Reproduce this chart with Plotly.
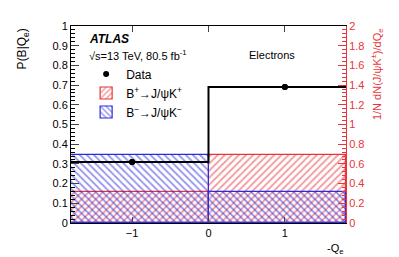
import plotly.graph_objects as go

# Data
bin_centers = [-0.9, 0.9]
bin_width = 1.8
bin_edges = [-1.8, 0.0, 1.8]
data_x = [-1, 1]
data_y = [0.31, 0.69]
data_err = [0.004, 0.004]
bplus = [0.155, 0.345]
bminus = [0.345, 0.155]

RED = "#e8343a"
BLUE = "#2a2ae0"
FONT = "Liberation Sans, Arial, Helvetica, sans-serif"

fig = go.Figure()

fig.add_trace(go.Scatter(
    x=data_x, y=data_y, mode="markers", name="Data",
    marker=dict(color="black", size=6, symbol="circle"),
    error_y=dict(type="data", array=data_err, color="black", thickness=1.5, width=0),
))
fig.add_trace(go.Bar(
    x=bin_centers, y=bplus, width=bin_width, name="B<sup>+</sup>→J/ψK<sup>+</sup>",
    marker=dict(color="rgba(0,0,0,0)", line=dict(color=RED, width=1.2),
                pattern=dict(shape="/", fgcolor=RED, size=5, solidity=0.35)),
))
fig.add_trace(go.Bar(
    x=bin_centers, y=bminus, width=bin_width, name="B<sup>−</sup>→J/ψK<sup>−</sup>",
    marker=dict(color="rgba(0,0,0,0)", line=dict(color=BLUE, width=1.2),
                pattern=dict(shape="\\", fgcolor=BLUE, size=5, solidity=0.35)),
))
fig.add_trace(go.Scatter(
    x=bin_edges, y=[data_y[0], data_y[1], data_y[1]], mode="lines", line_shape="hv",
    line=dict(color="black", width=2), showlegend=False, hoverinfo="skip",
))
fig.add_trace(go.Scatter(
    x=data_x, y=data_y, mode="markers", showlegend=False,
    marker=dict(color="black", size=6, symbol="circle"),
))
# dummy trace for right axis
fig.add_trace(go.Scatter(x=[0], y=[0], yaxis="y2", mode="markers",
                         marker=dict(opacity=0), showlegend=False, hoverinfo="skip"))

fig.update_layout(
    width=399, height=257,
    margin=dict(l=63, r=61, t=12, b=42),
    paper_bgcolor="white", plot_bgcolor="white",
    barmode="overlay", bargap=0,
    font=dict(family=FONT, size=11, color="black"),
    showlegend=True,
    legend=dict(x=0.055, y=0.83, xanchor="left", yanchor="top",
                bgcolor="rgba(0,0,0,0)", font=dict(size=12), tracegroupgap=0,
                itemwidth=30),
    xaxis=dict(range=[-1.8, 1.8], tickvals=[-1, 0, 1], ticks="inside", ticklen=6,
               showline=True, linecolor="black", linewidth=1, mirror="ticks",
               showgrid=False, zeroline=False, tickfont=dict(size=11)),
    yaxis=dict(range=[0, 1], dtick=0.1, ticks="inside", ticklen=8,
               showline=True, linecolor="black", linewidth=1,
               showgrid=False, zeroline=False, tickfont=dict(size=11),
               minor=dict(dtick=0.02, ticks="inside", ticklen=4, tickcolor="black")),
    yaxis2=dict(range=[0, 2], dtick=0.2, overlaying="y", side="right",
                ticks="inside", ticklen=8, tickcolor=RED,
                showline=True, linecolor=RED, linewidth=1,
                showgrid=False, zeroline=False, tickfont=dict(size=11, color=RED),
                minor=dict(dtick=0.04, ticks="inside", ticklen=4, tickcolor=RED)),
)

ann = [
    dict(text="<b><i>ATLAS</i></b>", x=0.058, y=0.936, font=dict(size=12)),
    dict(text="√s=13 TeV, 80.5 fb<sup>-1</sup>", x=0.058, y=0.852, font=dict(size=11)),
]
for a in ann:
    fig.add_annotation(xref="paper", yref="paper", xanchor="left", yanchor="middle",
                       showarrow=False, **a)
fig.add_annotation(text="Electrons", xref="paper", yref="paper", x=0.731, y=0.852,
                   xanchor="center", yanchor="middle", showarrow=False, font=dict(size=11))
fig.add_annotation(text="P(B|Q<sub>e</sub>)", xref="paper", yref="paper",
                   x=-0.175, y=1.0, xanchor="center", yanchor="top", textangle=-90,
                   showarrow=False, font=dict(size=12))
fig.add_annotation(text="1/N dN(J/ψK<sup>±</sup>)/dQ<sub>e</sub>", xref="paper", yref="paper",
                   x=1.113, y=1.0, xanchor="center", yanchor="top", textangle=-90,
                   showarrow=False, font=dict(size=11, color=RED))
fig.add_annotation(text="-Q<sub>e</sub>", xref="paper", yref="paper",
                   x=1.0, y=-0.13, xanchor="right", yanchor="middle",
                   showarrow=False, font=dict(size=11))

fig.write_html("out.html")
